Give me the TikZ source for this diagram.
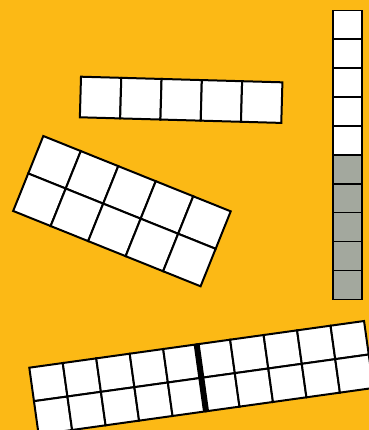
\documentclass[tikz,border=0pt]{standalone}
\definecolor{bgorange}{RGB}{252,185,21}
\definecolor{tilegray}{RGB}{163,168,158}

\begin{document}
\begin{tikzpicture}[
  x=0.75pt, y=0.75pt,
  cell/.style={draw=black, fill=white, line width=1.5pt},
  graycell/.style={cell, fill=tilegray, line width=1.2pt},
  colcell/.style={cell, line width=1.2pt},
  divider/.style={draw=black, line width=4.5pt}
]
\useasboundingbox (0,0) rectangle (369,430);
\clip (0,0) rectangle (369,430);
\fill[bgorange] (0,0) rectangle (369,430);

% strip of five, top middle
\begin{scope}[shift={(81,353.3)}, rotate=-1.6]
  \foreach \i in {0,...,4}
    \draw[cell] (\i*40.3,0) rectangle ++(40.3,-40.6);
\end{scope}

% tilted 2 x 5 block
\begin{scope}[shift={(43.3,294)}, rotate=-21.9]
  \foreach \i in {0,...,4}
    \foreach \j in {0,1}
      \draw[cell] (\i*40.4,-\j*40.4) rectangle ++(40.4,-40.4);
\end{scope}

% column of ten, right
\foreach \j in {0,...,4}
  \draw[colcell] (333.3,419.7-\j*28.9) rectangle ++(28.7,-28.9);
\foreach \j in {5,...,9}
  \draw[graycell] (333.3,419.7-\j*28.9) rectangle ++(28.7,-28.9);

% 2 x 10 block with divider, bottom
\begin{scope}[shift={(29.3,62.3)}, rotate=7.94]
  \foreach \i in {0,...,9}
    \foreach \j in {0,1}
      \draw[cell] (\i*33.8,-\j*33.8) rectangle ++(33.8,-33.8);
  \draw[divider] (5*33.8,0) -- (5*33.8,-67.6);
\end{scope}
\end{tikzpicture}
\end{document}
